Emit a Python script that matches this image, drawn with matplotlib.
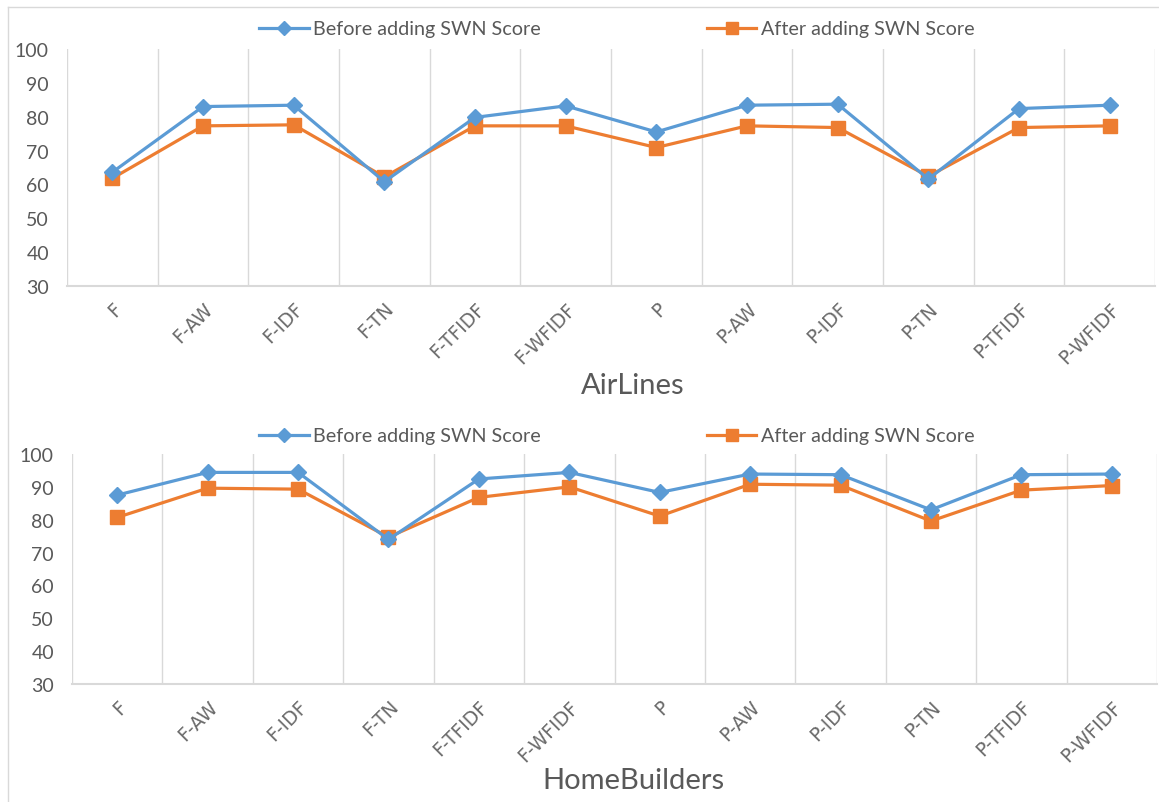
import matplotlib
matplotlib.use("Agg")
import matplotlib.pyplot as plt
from matplotlib.lines import Line2D
import numpy as np

plt.rcParams['font.family'] = ['Lato', 'DejaVu Sans']

methods = ['F', 'F-AW', 'F-IDF', 'F-TN', 'F-TFIDF', 'F-WFIDF',
           'P', 'P-AW', 'P-IDF', 'P-TN', 'P-TFIDF', 'P-WFIDF']

airlines_before = [63.6, 83.0, 83.4, 60.8, 79.8, 83.2, 75.5, 83.4, 83.7, 61.6, 82.4, 83.4]
airlines_after = [61.8, 77.3, 77.6, 62.2, 77.3, 77.3, 70.9, 77.3, 76.8, 62.4, 76.8, 77.3]

homebuilders_before = [87.5, 94.4, 94.4, 74.0, 92.4, 94.4, 88.3, 93.9, 93.7, 83.0, 93.7, 93.9]
homebuilders_after = [80.7, 89.6, 89.3, 74.7, 86.8, 90.0, 81.1, 90.8, 90.5, 79.6, 89.0, 90.4]

yticks = [30, 40, 50, 60, 70, 80, 90, 100]

blue = '#5B9BD5'
orange = '#ED7D31'
grid_c = '#D9D9D9'
text_c = '#595959'

W, H = 1159, 803
fig = plt.figure(figsize=(W / 100, H / 100), dpi=100)


def fx(px):
    return px / W


def fy(py):
    return 1 - py / H


panels = [
    # (left, right, top, bottom px, before, after, title, title_y, legend_y)
    (67, 1155, 50, 287, airlines_before, airlines_after, 'AirLines', 386, 30),
    (72, 1157, 455, 685, homebuilders_before, homebuilders_after, 'HomeBuilders', 781, 437),
]

x = np.arange(len(methods))

for left, right, top, bottom, before, after, title, title_y, leg_y in panels:
    ax = fig.add_axes([fx(left), fy(bottom), fx(right) - fx(left), fy(top) - fy(bottom)])
    ax.plot(x, before, color=blue, lw=2.3, marker='D', ms=8, zorder=3,
            label='Before adding SWN Score')
    ax.plot(x, after, color=orange, lw=2.3, marker='s', ms=10, zorder=2,
            label='After adding SWN Score')
    ax.set_xlim(-0.5, len(methods) - 0.5)
    ax.set_ylim(30, 100)
    ax.set_yticks(yticks)
    ax.set_xticks(x)
    ax.set_xticklabels(methods, rotation=45, ha='right', va='top',
                       rotation_mode='anchor')
    for lab in ax.get_xticklabels():
        lab.set_fontfamily('DejaVu Sans')
        lab.set_fontsize(13.5)
        lab.set_color('#6a6a6a')
    ax.set_xticks(np.arange(-0.5, len(methods), 1), minor=True)
    ax.grid(True, which='minor', axis='x', color=grid_c, lw=1)
    ax.tick_params(axis='x', which='both', length=0, pad=9)
    ax.tick_params(axis='y', length=0, pad=13, labelsize=14, labelcolor=text_c)
    for s in ['top', 'right', 'left']:
        ax.spines[s].set_visible(False)
    ax.spines['bottom'].set_color(grid_c)
    ax.spines['bottom'].set_linewidth(1.5)

    fig.text(fx(633), fy(title_y), title, fontsize=21, color=text_c,
             ha='center', va='center')

    leg = ax.legend(loc='center', bbox_to_anchor=(fx(617), fy(leg_y)),
                    bbox_transform=fig.transFigure, ncol=2, frameon=False,
                    fontsize=14.2, handlelength=2.5, handletextpad=0.25,
                    columnspacing=8.4, markerscale=0.9)
    for t in leg.get_texts():
        t.set_color(text_c)

# chart borders
fig.add_artist(Line2D([fx(8), fx(8)], [fy(8), 0], color=grid_c, lw=1))
fig.add_artist(Line2D([fx(8), 1], [fy(8), fy(8)], color=grid_c, lw=1))

fig.savefig('out.png', dpi=100)
